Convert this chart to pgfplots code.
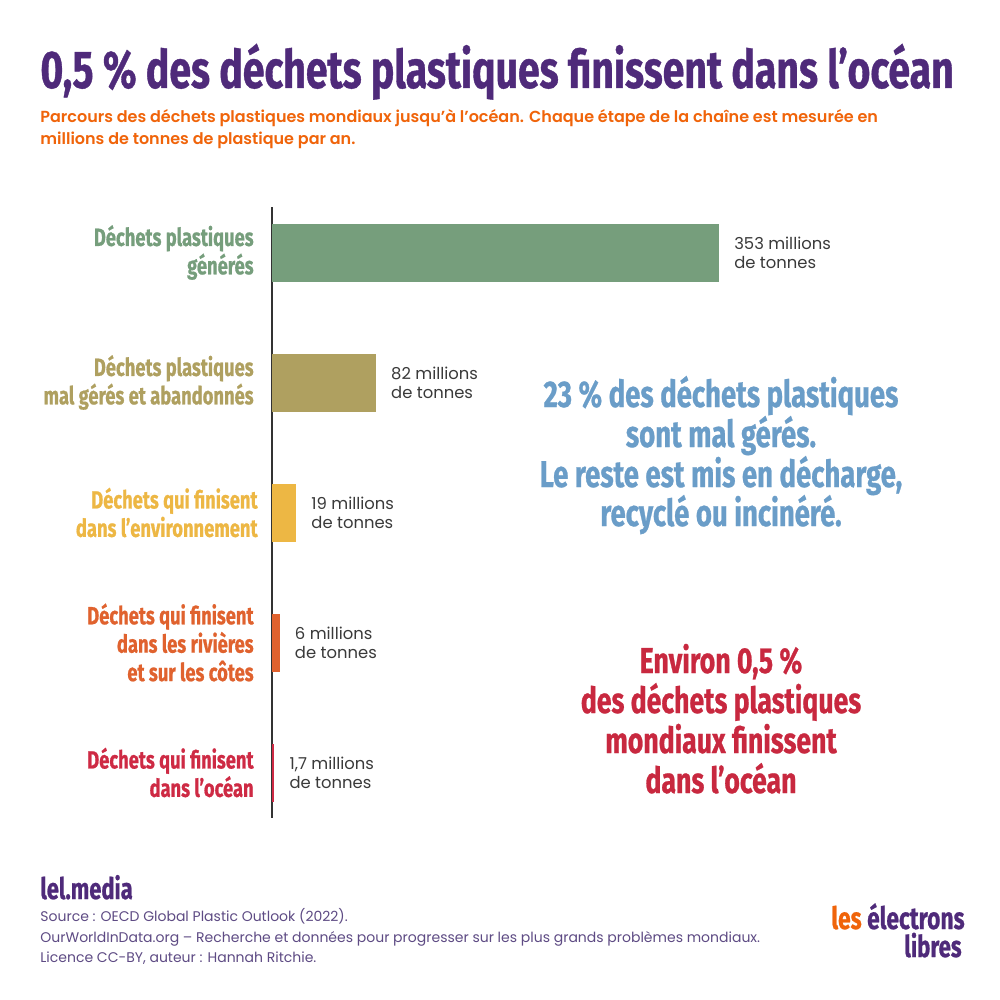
\documentclass[border=0pt]{standalone}
\usepackage{pgfplots}
\pgfplotsset{compat=1.18}
\usepackage{fontspec}
\setmainfont{Poppins}
\newfontfamily\popsemi{Poppins SemiBold}
\newfontfamily\cond[FakeStretch=0.74, FakeBold=0.7]{Fira Sans}

\definecolor{titlepurple}{HTML}{4F2A7A}
\definecolor{suborange}{HTML}{F0640A}
\definecolor{c1}{HTML}{769E7C}
\definecolor{c2}{HTML}{AFA060}
\definecolor{c3}{HTML}{EDB744}
\definecolor{c4}{HTML}{E0622E}
\definecolor{c5}{HTML}{CE2A44}
\definecolor{bluetxt}{HTML}{6A9DC8}
\definecolor{redtxt}{HTML}{C8283F}
\definecolor{valgray}{HTML}{3A3A3A}
\definecolor{axisgray}{HTML}{333333}
\definecolor{footgray}{HTML}{5E4B84}

\begin{document}
\begin{tikzpicture}
\fill[white] (0,0) rectangle (500pt,-500pt);

\begin{axis}[
  at={(136pt,-409pt)}, anchor=south west,
  scale only axis, width=316.5pt, height=305.5pt,
  xbar, bar shift=0pt, bar width=29pt,
  xmin=0, xmax=500, ymin=-0.35, ymax=4.35,
  y dir=reverse,
  axis x line=none, axis y line=left,
  axis line style={-, draw=axisgray, line width=0.7pt},
  ytick={0,1,2,3,4},
  yticklabels={
    {\color{c1}Déchets plastiques\\\color{c1}générés},
    {\color{c2}Déchets plastiques\\\color{c2}mal gérés et abandonnés},
    {\color{c3}Déchets qui finisent\hspace*{-2pt}\\\color{c3}dans l’environnement\hspace*{-2pt}},
    {\color{c4}Déchets qui finisent\\\color{c4}dans les rivières\\\color{c4}et sur les côtes},
    {\color{c5}Déchets qui finisent\\\color{c5}dans l’océan}},
  major tick length=0pt,
  yticklabel style={align=right, anchor=east, inner sep=0pt, xshift=-9pt,
    font=\cond\bfseries\fontsize{12.4}{14.2}\selectfont},
  nodes near coords style={anchor=west, align=left, inner sep=0pt, xshift=7.5pt,
    font=\fontsize{8.2}{9.5}\selectfont, text=valgray},
  clip=false]
\addplot[fill=c1, draw=none, nodes near coords={353 millions\\de tonnes}] coordinates {(353,0)};
\addplot[fill=c2, draw=none, nodes near coords={82 millions\\de tonnes}] coordinates {(82,1)};
\addplot[fill=c3, draw=none, nodes near coords={19 millions\\de tonnes}] coordinates {(19,2)};
\addplot[fill=c4, draw=none, nodes near coords={6 millions\\de tonnes}] coordinates {(6,3)};
\addplot[fill=c5, draw=none, nodes near coords={1,7 millions\\de tonnes}] coordinates {(1.7,4)};
\end{axis}

\begin{scope}[x=0.5pt, y=-0.5pt, every node/.style={inner sep=0pt}]
% title
\node[anchor=base west, text=titlepurple] at (40,88)
  {\cond\bfseries\fontsize{26.5}{30}\selectfont 0,5 \% des déchets plastiques finissent dans l’océan};
% subtitle
\node[anchor=base west, text=suborange] at (40,123)
  {\popsemi\fontsize{8.0}{10.8}\selectfont Parcours des déchets plastiques mondiaux jusqu’à l’océan. Chaque étape de la chaîne est mesurée en};
\node[anchor=base west, text=suborange] at (40,145)
  {\popsemi\fontsize{8.0}{10.8}\selectfont millions de tonnes de plastique par an.};
% blue annotation
\foreach \t/\yy in {{23 \% des déchets plastiques}/407, {sont mal gérés.}/447, {Le reste est mis en décharge,}/487, {recyclé ou incinéré.}/526}
  \node[anchor=base, text=bluetxt] at (721,\yy) {\cond\bfseries\fontsize{18.6}{20}\selectfont \t};
% red annotation
\foreach \t/\yy in {{Environ 0,5 \%}/673, {des déchets plastiques}/713, {mondiaux finissent}/753, {dans l’océan}/793}
  \node[anchor=base, text=redtxt] at (721,\yy) {\cond\bfseries\fontsize{18}{20}\selectfont \t};
% footer
\node[anchor=base west, text=titlepurple] at (40,899)
  {\cond\bfseries\fontsize{14.8}{18}\selectfont lel.media};
\node[anchor=base west, text=footgray] at (40,921)
  {\fontsize{7}{10}\selectfont Source : OECD Global Plastic Outlook (2022).};
\node[anchor=base west, text=footgray] at (40,942)
  {\fontsize{7}{10}\selectfont OurWorldInData.org – Recherche et données pour progresser sur les plus grands problèmes mondiaux.};
\node[anchor=base west, text=footgray] at (40,962)
  {\fontsize{7}{10}\selectfont Licence CC-BY, auteur : Hannah Ritchie.};
% logo
\node[anchor=base west, text=suborange] at (831,929)
  {\cond\bfseries\fontsize{15.4}{16}\selectfont les};
\node[anchor=base east, text=titlepurple] at (965,929)
  {\cond\bfseries\fontsize{15.4}{16}\selectfont électrons};
\node[anchor=base east, text=titlepurple] at (962,957)
  {\cond\bfseries\fontsize{15}{16}\selectfont libres};
\end{scope}
\end{tikzpicture}
\end{document}
